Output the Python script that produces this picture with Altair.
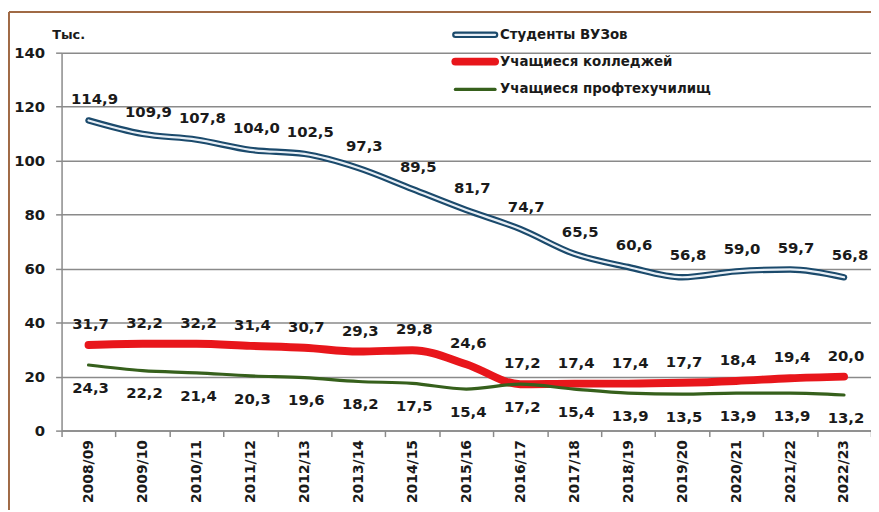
import altair as alt
import pandas as pd

years = ["2008/09", "2009/10", "2010/11", "2011/12", "2012/13", "2013/14", "2014/15",
         "2015/16", "2016/17", "2017/18", "2018/19", "2019/20", "2020/21", "2021/22", "2022/23"]
vuz = [114.9, 109.9, 107.8, 104.0, 102.5, 97.3, 89.5, 81.7, 74.7, 65.5, 60.6, 56.8, 59.0, 59.7, 56.8]
college = [31.7, 32.2, 32.2, 31.4, 30.7, 29.3, 29.8, 24.6, 17.2, 17.4, 17.4, 17.7, 18.4, 19.4, 20.0]
ptu = [24.3, 22.2, 21.4, 20.3, 19.6, 18.2, 17.5, 15.4, 17.2, 15.4, 13.9, 13.5, 13.9, 13.9, 13.2]
series_names = ["Студенты ВУЗов", "Учащиеся  колледжей", "Учащиеся  профтехучилищ"]

FONT = "DejaVu Sans"
W, H = 816, 381

def frame(vals):
    return pd.DataFrame({"year": years, "value": vals})

x_enc = alt.X("year:N", sort=years,
              scale=alt.Scale(type="band", paddingInner=0, paddingOuter=0),
              axis=alt.Axis(title=None, labelAngle=-90, tickBand="extent", grid=False,
                            labelFont=FONT, labelFontSize=14, labelFontWeight="bold",
                            labelColor="#1a1a1a", labelPadding=3, tickSize=6,
                            tickColor="#8a8a8a", domainColor="#8a8a8a", domainWidth=1.5,
                            tickWidth=1.5))
y_enc = alt.Y("value:Q", scale=alt.Scale(domain=[0, 140], nice=False),
              axis=alt.Axis(values=[0, 20, 40, 60, 80, 100, 120, 140], title="Тыс.",
                            titleAngle=0, titleAlign="left", titleBaseline="middle",
                            titleX=-10, titleY=-18, titleFont=FONT, titleFontSize=13,
                            titleFontWeight="bold", titleColor="#1a1a1a",
                            labelFont=FONT, labelFontSize=15, labelFontWeight="bold",
                            labelColor="#1a1a1a", labelPadding=11, tickSize=6,
                            tickColor="#8a8a8a", domainColor="#8a8a8a", domainWidth=1.5,
                            gridColor="#8a8a8a", gridWidth=1.5, tickWidth=1.5))

lbl = "replace(format(datum.value, '.1f'), '.', ',')"

def line(vals, color, width):
    return alt.Chart(frame(vals)).mark_line(
        color=color, strokeWidth=width, interpolate="monotone", strokeCap="round",
        strokeJoin="round"
    ).encode(x=x_enc, y=y_enc)

def labels(vals, dx, dy):
    return alt.Chart(frame(vals)).transform_calculate(lab=lbl).mark_text(
        font=FONT, fontSize=15, fontWeight="bold", color="#1a1a1a", dx=dx, dy=dy
    ).encode(x=x_enc, y=y_enc, text="lab:N")

BLUE_O, BLUE_I = "#1b4a6c", "#e8eff6"
RED = "#e8161b"
GREEN = "#36601c"

layers = [
    line(vuz, BLUE_O, 6.5), line(vuz, BLUE_I, 2.2),
    line(college, RED, 8), line(ptu, GREEN, 3.2),
    labels(vuz, 6, -22), labels(college, 2, -21), labels(ptu, 2, 23),
]

# legend (manual, to reproduce the double-line symbol)
leg_y = [-18, 9, 37]
sym_x, sym_x2, txt_x = 397, 437, 442
leg_df = pd.DataFrame({"name": series_names})

def leg_rule(i, color, width):
    return alt.Chart(leg_df.iloc[[i]]).mark_rule(color=color, strokeWidth=width, strokeCap="round").encode(
        x=alt.value(sym_x), x2=alt.value(sym_x2), y=alt.value(leg_y[i]))

def leg_text(i):
    return alt.Chart(leg_df.iloc[[i]]).mark_text(
        font=FONT, fontSize=13.5, fontWeight="bold", color="#1a1a1a", align="left", baseline="middle"
    ).encode(x=alt.value(txt_x), y=alt.value(leg_y[i]), text="name:N")

layers += [
    leg_rule(0, BLUE_O, 6.5), leg_rule(0, BLUE_I, 2.2), leg_text(0),
    leg_rule(1, RED, 8), leg_text(1),
    leg_rule(2, GREEN, 3.2), leg_text(2),
]

# outer brown frame (top and left edges)
frame_df = pd.DataFrame({"k": [0]})
layers += [
    alt.Chart(frame_df).mark_rule(color="#a06a45", strokeWidth=2).encode(
        x=alt.value(-53), x2=alt.value(W), y=alt.value(-41)),
    alt.Chart(frame_df).mark_rule(color="#a06a45", strokeWidth=2).encode(
        x=alt.value(-53), y=alt.value(-41), y2=alt.value(H + 80)),
]

chart = alt.layer(*layers).properties(
    width=W, height=H,
    autosize=alt.AutoSizeParams(type="none"),
    padding={"left": 54, "top": 43, "right": 0, "bottom": 80},
    background="white",
).configure_view(stroke=None)

chart.save("out.html", embed_options={"renderer": "svg", "actions": False})
